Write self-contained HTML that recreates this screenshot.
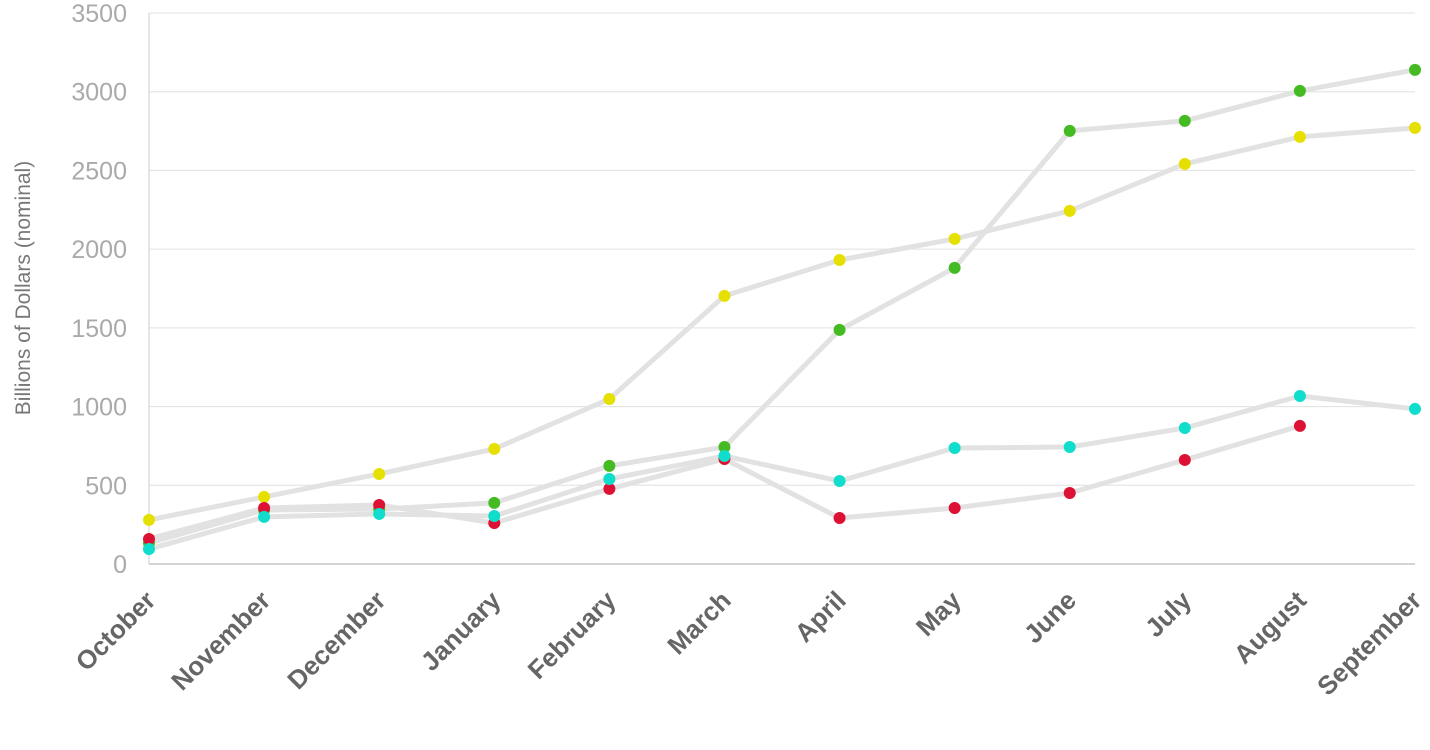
<!DOCTYPE html>
<html><head><meta charset="utf-8"><style>
html,body{margin:0;padding:0;background:#fff;}
svg{display:block;font-family:"Liberation Sans",sans-serif;}
</style></head><body>
<svg id="chart" width="1430" height="750"></svg>
<script>
const categories=["October","November","December","January","February","March","April","May","June","July","August","September"];
const yTicks=[0,500,1000,1500,2000,2500,3000,3500];
const seriesYellow=[280,426,572,731,1048,1703,1931,2065,2243,2541,2713,2770];
const seriesGreen=[133,343,349,388,623,743,1487,1881,2751,2815,3005,3139];
const seriesRed=[159,356,375,260,477,667,292,356,451,661,877,null];
const seriesCyan=[95,299,318,305,540,686,527,737,743,864,1067,985];
const seriesList=[
 {name:"yellow",color:"#e6e000",vals:seriesYellow},
 {name:"green",color:"#44bb22",vals:seriesGreen},
 {name:"red",color:"#dd1133",vals:seriesRed},
 {name:"cyan",color:"#11ddcc",vals:seriesCyan}];
const NS="http://www.w3.org/2000/svg";
const svg=document.getElementById('chart');
const x0=149,x1=1415,yBase=564,yTop=13,yMax=3500;
const xs=i=>x0+i*(x1-x0)/(categories.length-1);
const ys=v=>yBase-v*(yBase-yTop)/yMax;
function mk(t,a){const e=document.createElementNS(NS,t);for(const k in a)e.setAttribute(k,a[k]);svg.appendChild(e);return e;}
yTicks.forEach(v=>{
 const l=mk('line',{x1:x0,x2:x1,y1:ys(v),y2:ys(v),stroke:v===0?'#aaa':'#e0e0e0','stroke-width':1});
 
 
 const t=mk('text',{x:127,y:ys(v)+9,'text-anchor':'end','font-size':25,fill:'#aaa'});
 t.textContent=v;
 
 
});
const ax=mk('line',{x1:x0,x2:x0,y1:yTop,y2:yBase,stroke:'#ccc','stroke-width':1});


const title=mk('text',{x:0,y:0,transform:'translate(30,288) rotate(-90)','text-anchor':'middle','font-size':21,fill:'#777'});
title.textContent='Billions of Dollars (nominal)';


categories.forEach((c,i)=>{
 const t=mk('text',{x:0,y:0,transform:`translate(${xs(i)+8},${yBase+38}) rotate(-45)`,'text-anchor':'end','font-size':26,'font-weight':'bold',fill:'#666'});
 t.textContent=c;
 
 
});
seriesList.forEach(s=>{
 let d='',pen=false;
 s.vals.forEach((v,i)=>{if(v==null){pen=false;return;}d+=(pen?'L':'M')+xs(i)+','+ys(v);pen=true;});
 const p=mk('path',{d:d,fill:'none',stroke:'#e2e2e2','stroke-width':5,'stroke-linejoin':'round'});
 
 
});
seriesList.forEach(s=>{
 s.vals.forEach((v,i)=>{if(v==null)return;
  const c=mk('circle',{cx:xs(i),cy:ys(v),r:6,fill:s.color});
  
  
 });
});
</script>
</body></html>
